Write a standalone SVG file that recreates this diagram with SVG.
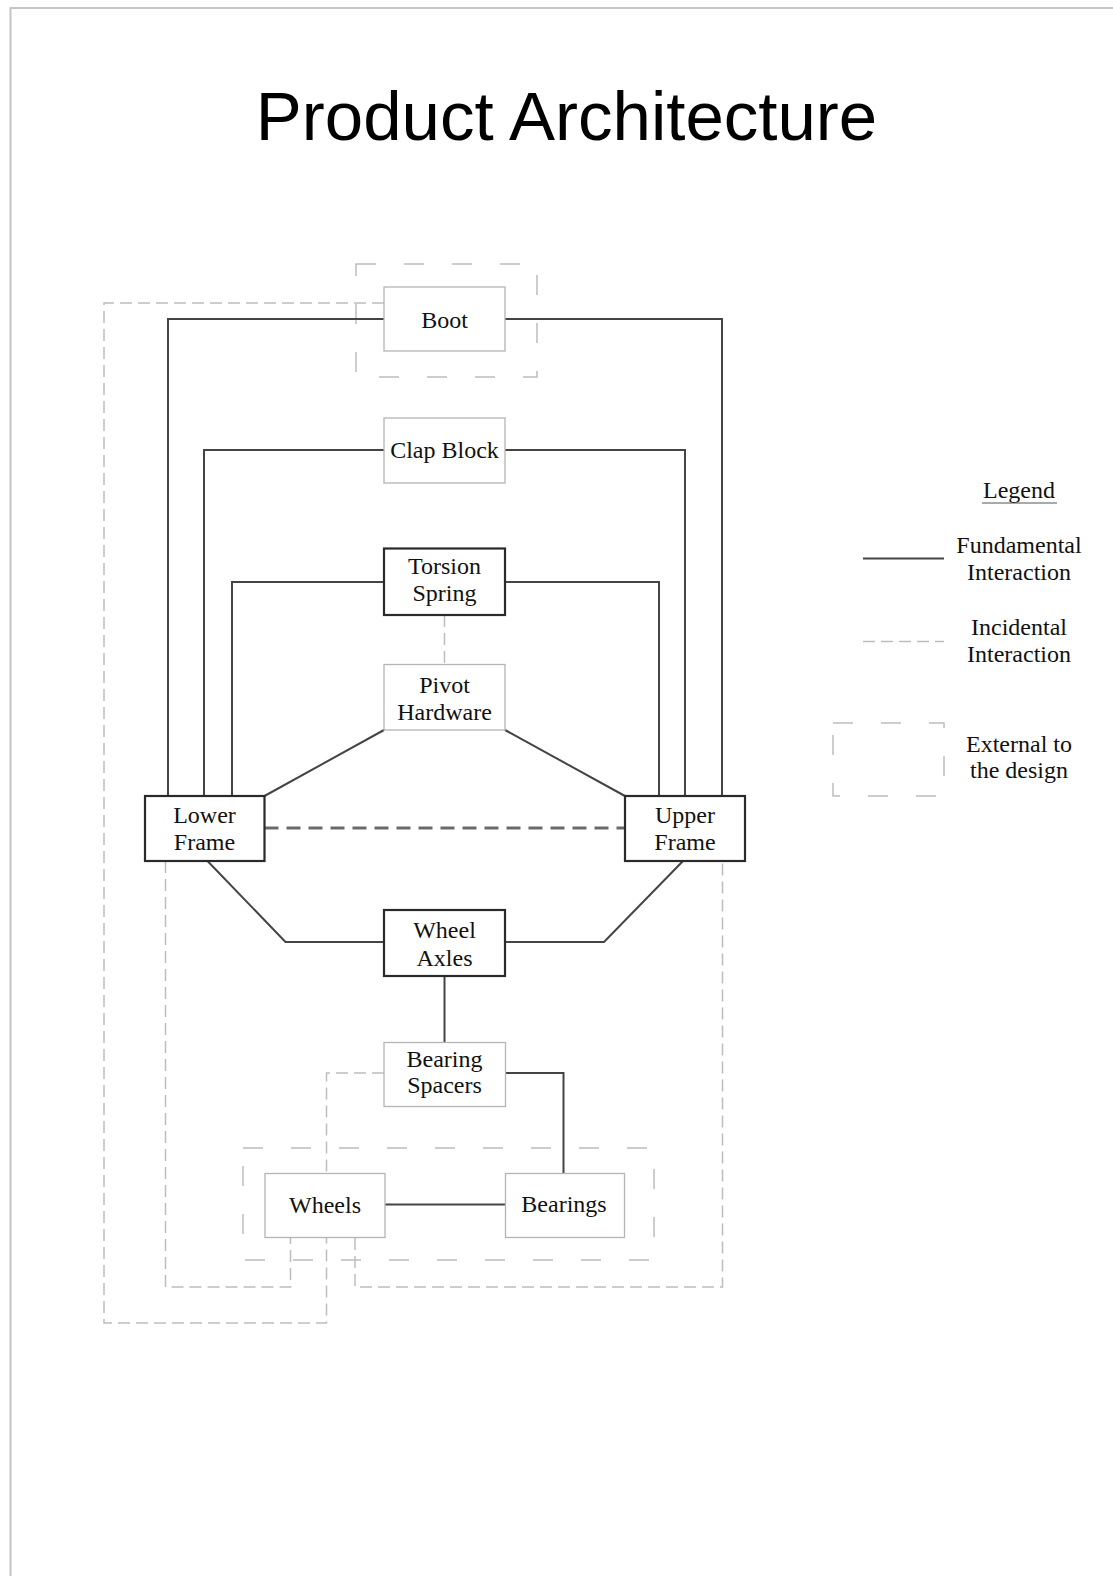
<svg xmlns="http://www.w3.org/2000/svg" width="1113" height="1576" viewBox="0 0 1113 1576">
<style>
.page{fill:none;stroke:#c4c4c4;stroke-width:2}
.title{font-family:"Liberation Sans",Arial,sans-serif;font-size:69px;fill:#000;text-anchor:middle}
.lbl{font-family:"Liberation Serif","Times New Roman",serif;font-size:24px;fill:#111;text-anchor:middle}
.box-dark{fill:#fff;stroke:#2a2a2a;stroke-width:2.2}
.box-light{fill:#fff;stroke:#b4b4b4;stroke-width:1.3}
.fund{fill:none;stroke:#444;stroke-width:2}
.inc{fill:none;stroke:#bdbdbd;stroke-width:1.5;stroke-dasharray:12 6}
.incd{fill:none;stroke:#6a6a6a;stroke-width:3;stroke-dasharray:14 8}
.ext{fill:none;stroke:#bdbdbd;stroke-width:1.5;stroke-dasharray:20 28}
</style>
<path class="page" d="M10.5,1576 V8 H1113"/>
<text class="title" x="566.5" y="140">Product Architecture</text>

<g id="externals">
<rect class="ext" x="356" y="264" width="181" height="113"/>
<rect class="ext" x="243" y="1148" width="411" height="112"/>
</g>

<g id="connectors">
<path class="fund" d="M384,319 H168 V796"/>
<path class="fund" d="M505,319 H722 V796"/>
<path class="fund" d="M384,450 H204 V796"/>
<path class="fund" d="M505,450 H685 V796"/>
<path class="fund" d="M384,582 H232 V796"/>
<path class="fund" d="M505,582 H659 V796"/>
<path class="fund" d="M384,730 L264.5,796"/>
<path class="fund" d="M505,730 L625,796"/>
<path class="fund" d="M207.5,861 L285.5,942 H384"/>
<path class="fund" d="M505,942 H604 L683,861"/>
<path class="fund" d="M444.5,976 V1042"/>
<path class="fund" d="M505,1073 H563.5 V1173"/>
<path class="fund" d="M385,1204.5 H505"/>
<path class="inc" d="M444.5,615 V664"/>
<path class="incd" d="M264.5,828 H625"/>
<path class="inc" d="M384,303 H104 V1323 H326.5 V1238"/>
<path class="inc" d="M165.5,861 V1287 H290.5 V1238"/>
<path class="inc" d="M355,1238 V1287 H722.5 V861"/>
<path class="inc" d="M384,1073 H326.5 V1173"/>
</g>

<g id="boot"><rect class="box-light" x="384" y="287" width="121" height="64"/><text class="lbl" x="444.5" y="327.5">Boot</text></g>
<g id="clap-block"><rect class="box-light" x="384" y="418" width="121" height="65"/><text class="lbl" x="444.5" y="457.5">Clap Block</text></g>
<g id="torsion-spring"><rect class="box-dark" x="384" y="548.5" width="121" height="66.5"/><text class="lbl" x="444.5" y="573.5">Torsion</text><text class="lbl" x="444.5" y="601">Spring</text></g>
<g id="pivot-hardware"><rect class="box-light" x="384" y="664.5" width="121" height="65.5"/><text class="lbl" x="444.5" y="692.5">Pivot</text><text class="lbl" x="444.5" y="719.5">Hardware</text></g>
<g id="lower-frame"><rect class="box-dark" x="145" y="796" width="119.5" height="65"/><text class="lbl" x="204.5" y="823">Lower</text><text class="lbl" x="204.5" y="850">Frame</text></g>
<g id="upper-frame"><rect class="box-dark" x="625" y="796" width="120" height="65"/><text class="lbl" x="685" y="823">Upper</text><text class="lbl" x="685" y="850">Frame</text></g>
<g id="wheel-axles"><rect class="box-dark" x="384" y="910" width="121" height="66"/><text class="lbl" x="444.5" y="938">Wheel</text><text class="lbl" x="444.5" y="965.5">Axles</text></g>
<g id="bearing-spacers"><rect class="box-light" x="384" y="1042.5" width="121.5" height="64"/><text class="lbl" x="444.5" y="1066.5">Bearing</text><text class="lbl" x="444.5" y="1093">Spacers</text></g>
<g id="wheels"><rect class="box-light" x="265" y="1173.5" width="120" height="64"/><text class="lbl" x="325" y="1213">Wheels</text></g>
<g id="bearings"><rect class="box-light" x="505.5" y="1173.5" width="119" height="64"/><text class="lbl" x="564" y="1211.5">Bearings</text></g>

<g id="legend">
<text class="lbl" x="1019" y="498">Legend</text>
<line x1="982" y1="503" x2="1057" y2="503" stroke="#555" stroke-width="1"/>
<line class="fund" x1="863" y1="558.5" x2="944" y2="558.5"/>
<text class="lbl" x="1019" y="553">Fundamental</text>
<text class="lbl" x="1019" y="580">Interaction</text>
<line class="inc" x1="863" y1="641.5" x2="944" y2="641.5"/>
<text class="lbl" x="1019" y="635">Incidental</text>
<text class="lbl" x="1019" y="662">Interaction</text>
<rect class="ext" x="833" y="723" width="111" height="73"/>
<text class="lbl" x="1019" y="752">External to</text>
<text class="lbl" x="1019" y="778">the design</text>
</g>
</svg>
